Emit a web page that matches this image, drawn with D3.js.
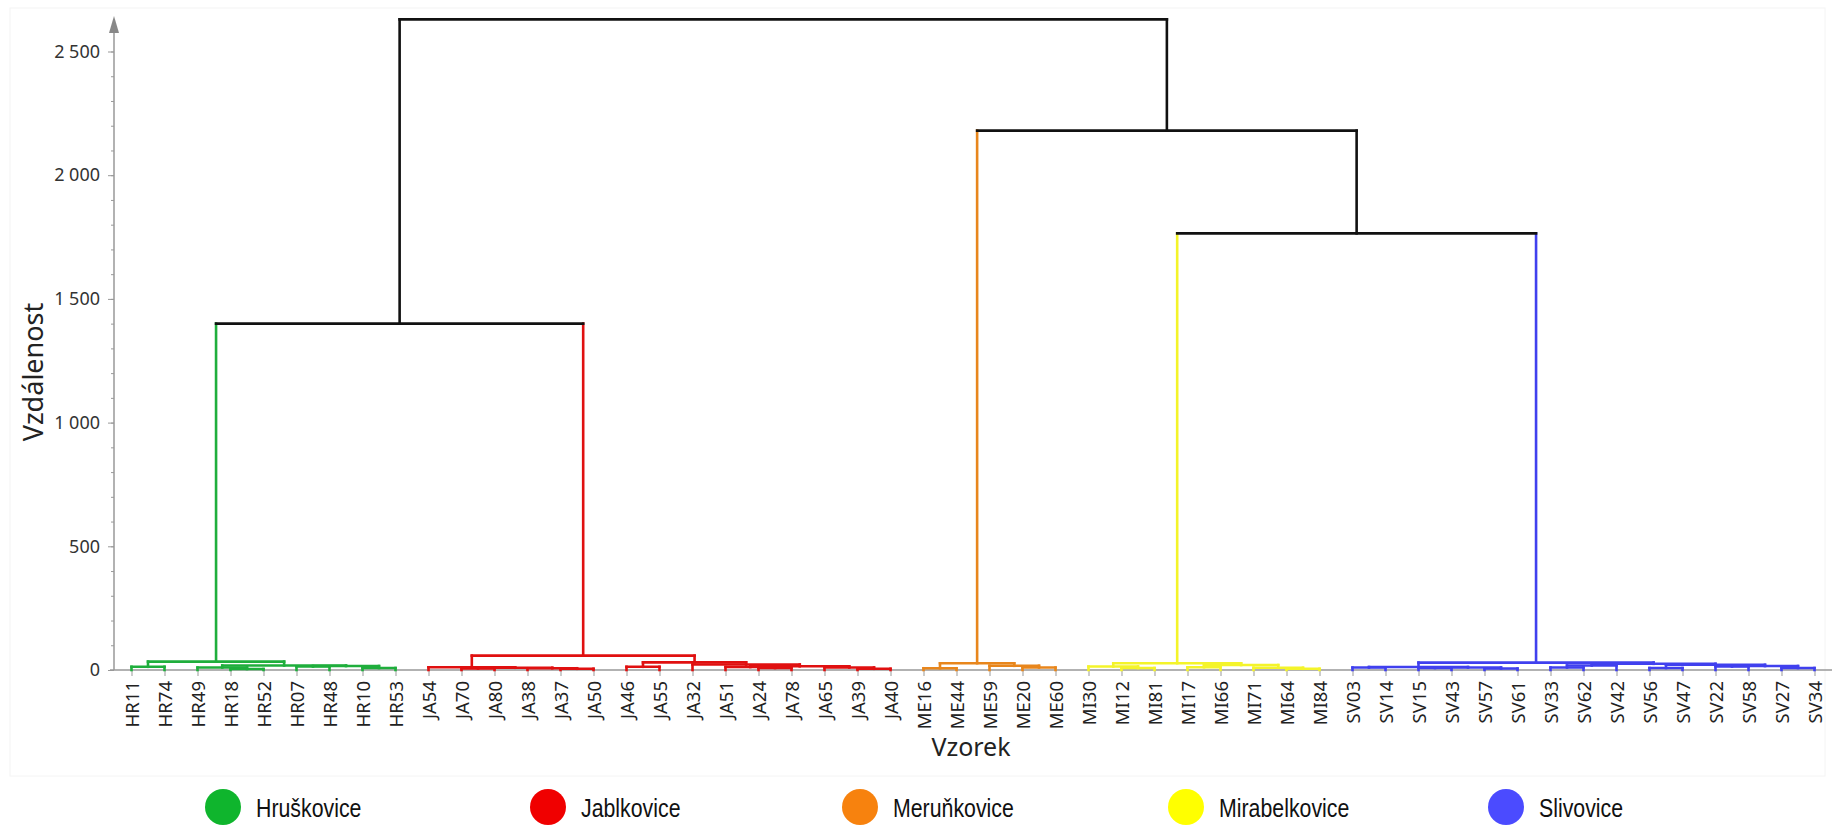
<!DOCTYPE html>
<html>
<head>
<meta charset="utf-8">
<script src="https://cdn.jsdelivr.net/npm/d3@7"></script>
<style>
  body { margin: 0; background: #fff; }
  svg { display: block; }
</style>
</head>
<body>
<div id="chartParent"></div>
<script>
// groups (sample prefix -> legend name, colours)
const groupCodes = ["HR", "JA", "ME", "MI", "SV"];
const groupNames = ["Hruškovice", "Jablkovice", "Meruňkovice", "Mirabelkovice", "Slivovice"];
const legendColors = ["#0fb52d", "#f00000", "#f7820e", "#ffff00", "#4b4bff"];
const lineColors = ["#1fae3c", "#e01010", "#e8861c", "#f4f42a", "#4040ee"];

// leaf order along the x axis
const leaves = [
  "HR11","HR74","HR49","HR18","HR52","HR07","HR48","HR10","HR53",
  "JA54","JA70","JA80","JA38","JA37","JA50","JA46","JA55","JA32","JA51","JA24","JA78","JA65","JA39","JA40",
  "ME16","ME44","ME59","ME20","ME60",
  "MI30","MI12","MI81","MI17","MI66","MI71","MI64","MI84",
  "SV03","SV14","SV15","SV43","SV57","SV61","SV33","SV62","SV42","SV56","SV47","SV22","SV58","SV27","SV34"
];

// merges: [new node, left child, right child, distance]
const merges = [
  ["h1","HR11","HR74",13], ["h2","HR18","HR52",4], ["h3","HR49","h2",10],
  ["h4","HR07","HR48",14], ["h5","HR10","HR53",8], ["h6","h4","h5",16],
  ["h7","h3","h6",18], ["h8","h1","h7",34],

  ["j1","JA70","JA80",6], ["j2","JA37","JA50",5], ["j3","JA38","j2",7],
  ["j4","j1","j3",9], ["j5","JA54","j4",11], ["j6","JA46","JA55",13],
  ["j7","JA24","JA78",8], ["j8","JA51","j7",12], ["j9","JA39","JA40",5],
  ["j10","JA65","j9",10], ["j11","j8","j10",15], ["j12","JA32","j11",22],
  ["j13","j6","j12",31], ["j14","j5","j13",58],

  ["m1","ME16","ME44",7], ["m2","ME20","ME60",10], ["m3","ME59","m2",17],
  ["m4","m1","m3",27],

  ["i1","MI12","MI81",8], ["i2","MI30","i1",14], ["i3","MI17","MI66",11],
  ["i4","MI64","MI84",5], ["i5","MI71","i4",9], ["i6","i3","i5",20],
  ["i7","i2","i6",27],

  ["s1","SV03","SV14",10], ["s2","SV15","SV43",8], ["s3","SV57","SV61",6],
  ["s4","s2","s3",10], ["s5","s1","s4",12], ["s6","SV33","SV62",10],
  ["s7","s6","SV42",18], ["s8","SV56","SV47",8], ["s9","SV22","SV58",14],
  ["s10","SV27","SV34",8], ["s11","s9","s10",16], ["s12","s8","s11",21],
  ["s13","s7","s12",25], ["s14","s5","s13",30],

  ["t1","h8","j14",1400], ["t2","i7","s14",1765], ["t3","m4","t2",2180],
  ["t4","t1","t3",2630]
];

const yMajor = [0, 500, 1000, 1500, 2000, 2500];

const W = 1832, H = 832;
const svg = d3.select("#chartParent").append("svg")
  .attr("width", W).attr("height", H);

// faint frame
svg.append("rect")
  .attr("x", 10).attr("y", 8).attr("width", 1815).attr("height", 768)
  .attr("fill", "none").attr("stroke", "#f4f4f4");

const x = d3.scalePoint().domain(leaves).range([115, 1831]).padding(0.5);
const y = d3.scaleLinear().domain([0, 2500]).range([670, 51.5]);

const fmt = v => d3.format(",")(v).replace(",", " ");

// minor ticks
svg.append("g")
  .attr("transform", "translate(114,0)")
  .call(d3.axisLeft(y).tickValues(d3.range(0, 2601, 100)).tickSize(3).tickFormat(""))
  .call(g => g.select(".domain").remove())
  .call(g => g.selectAll(".tick line").attr("stroke", "#999"));

// y axis
const yAxis = svg.append("g")
  .attr("transform", "translate(114,0)")
  .call(d3.axisLeft(y).tickValues(yMajor).tickSize(6).tickPadding(8).tickFormat(fmt));
yAxis.select(".domain").remove();
yAxis.selectAll(".tick line").attr("stroke", "#999");
yAxis.selectAll(".tick text")
  .attr("fill", "#333")
  .style("font-family", "'Noto Sans', sans-serif")
  .style("font-size", "18px");
svg.append("line")
  .attr("x1", 114).attr("x2", 114).attr("y1", 670).attr("y2", 30)
  .attr("stroke", "#999").attr("stroke-width", 1.5);
svg.append("path")
  .attr("d", "M114,16 L119,33 L109,33 Z")
  .attr("fill", "#888");

// x axis
const xAxis = svg.append("g")
  .attr("transform", "translate(0,670)")
  .call(d3.axisBottom(x).tickSize(6).tickSizeOuter(0));
xAxis.select(".domain")
  .attr("d", "M110,0H1832")
  .attr("stroke", "#999").attr("stroke-width", 1.5);
xAxis.selectAll(".tick line").attr("stroke", "#999");
xAxis.selectAll(".tick text")
  .attr("transform", "rotate(-90)")
  .attr("text-anchor", "end")
  .attr("x", -11).attr("y", 0).attr("dy", "0.36em")
  .attr("fill", "#222")
  .style("font-family", "'Noto Sans', sans-serif")
  .style("font-size", "18.5px");

// build tree nodes
const nodes = {};
leaves.forEach(id => {
  const gi = groupCodes.indexOf(id.slice(0, 2));
  nodes[id] = { x: x(id), h: 0, g: gi };
});
merges.forEach(([id, a, b, h]) => {
  const l = nodes[a], r = nodes[b];
  nodes[id] = { x: (l.x + r.x) / 2, h: h, g: (l.g === r.g) ? l.g : -1, l: l, r: r };
});
const colorOf = n => n.g >= 0 ? lineColors[n.g] : "#111";

// links: verticals in child colour, horizontal in parent colour
const links = svg.append("g")
  .attr("fill", "none")
  .attr("stroke-width", 2.6)
  .attr("stroke-linecap", "square");
merges.forEach(([id]) => {
  const n = nodes[id];
  [n.l, n.r].forEach(c => {
    links.append("line")
      .attr("x1", c.x).attr("x2", c.x)
      .attr("y1", y(c.h)).attr("y2", y(n.h))
      .attr("stroke", colorOf(c));
  });
  links.append("line")
    .attr("x1", n.l.x).attr("x2", n.r.x)
    .attr("y1", y(n.h)).attr("y2", y(n.h))
    .attr("stroke", colorOf(n));
});

// axis titles
svg.append("text")
  .attr("x", 971).attr("y", 756)
  .attr("text-anchor", "middle")
  .attr("fill", "#222")
  .style("font-family", "'Noto Sans', sans-serif")
  .style("font-size", "25px")
  .text("Vzorek");
svg.append("text")
  .attr("transform", "translate(43,372) rotate(-90)")
  .attr("text-anchor", "middle")
  .attr("fill", "#222")
  .style("font-family", "'Noto Sans', sans-serif")
  .style("font-size", "27px")
  .text("Vzdálenost");

// legend (text is condensed like the original)
const legendX = [223, 548, 860, 1186, 1506];
const legend = svg.append("g");
groupNames.forEach((name, i) => {
  legend.append("circle")
    .attr("cx", legendX[i]).attr("cy", 807).attr("r", 18)
    .attr("fill", legendColors[i]);
  legend.append("text")
    .attr("transform", `translate(${legendX[i] + 33},817) scale(0.82,1)`)
    .attr("fill", "#111")
    .style("font-family", "'Liberation Sans', Arial, sans-serif")
    .style("font-size", "26px")
    .text(name);
});
</script>
</body>
</html>
